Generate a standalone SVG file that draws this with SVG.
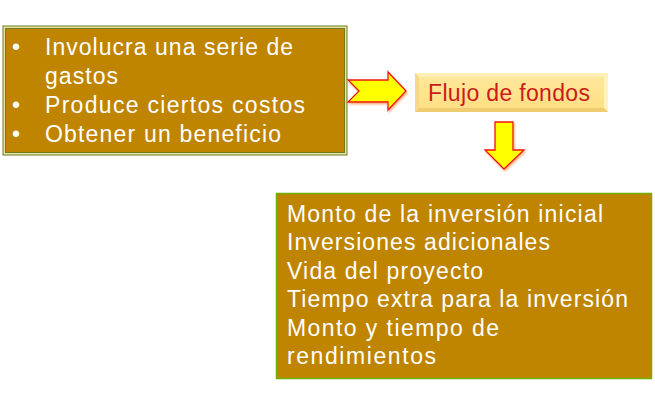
<svg xmlns="http://www.w3.org/2000/svg" width="655" height="416" viewBox="0 0 655 416">
<defs>
<style>
.t{font-family:"Liberation Sans",Arial,sans-serif;font-size:23px;fill:#ffffff}
.arr{fill:#ffff00;stroke:#ee1111;stroke-width:1.3}
</style>
<linearGradient id="fg" x1="0" y1="0" x2="0" y2="1">
<stop offset="0" stop-color="#ffe89a"/>
<stop offset="1" stop-color="#ffdf85"/>
</linearGradient>
<filter id="sh" x="-20%" y="-20%" width="150%" height="150%">
<feDropShadow dx="1" dy="1.5" stdDeviation="1" flood-color="#f08030" flood-opacity="0.7"/>
</filter>
</defs>
<rect width="655" height="416" fill="#ffffff"/>
<g id="box-caracteristicas">
<rect x="3" y="26" width="344" height="129" fill="#e6e2a8" stroke="#6f7d1c" stroke-width="1"/>
<rect x="5.5" y="28.5" width="339" height="124" fill="#bf8500" stroke="#6f7d1c" stroke-width="1"/>
<text class="t" x="12" y="55">•</text>
<text class="t" x="45" y="55" textLength="248" lengthAdjust="spacing">Involucra una serie de</text>
<text class="t" x="45" y="84" textLength="73" lengthAdjust="spacing">gastos</text>
<text class="t" x="12" y="113">•</text>
<text class="t" x="45" y="113" textLength="260" lengthAdjust="spacing">Produce ciertos costos</text>
<text class="t" x="12" y="142">•</text>
<text class="t" x="45" y="142" textLength="236" lengthAdjust="spacing">Obtener un beneficio</text>
</g>
<g id="box-flujo">
<rect x="415" y="73" width="193" height="39" fill="#fbe7a0"/>
<polygon points="415,73 608,73 604,77 419,77" fill="#fff0b8"/>
<polygon points="608,73 608,112 604,108 604,77" fill="#fff3c0"/>
<polygon points="415,112 608,112 604,108 419,108" fill="#f0cc70"/>
<polygon points="415,73 419,77 419,108 415,112" fill="#f5d888"/>
<rect x="419" y="77" width="185" height="31" fill="url(#fg)"/>
<text x="428" y="101" textLength="162" lengthAdjust="spacing" style="font-family:'Liberation Sans',Arial,sans-serif;font-size:23px;fill:#cc1a1a">Flujo de fondos</text>
</g>
<g id="box-elementos">
<rect x="276.5" y="193.5" width="375" height="185" fill="#bf8500" stroke="#72b000" stroke-width="1.5"/>
<text class="t" x="287" y="222" textLength="316" lengthAdjust="spacing">Monto de la inversión inicial</text>
<text class="t" x="287" y="250" textLength="263" lengthAdjust="spacing">Inversiones adicionales</text>
<text class="t" x="287" y="279" textLength="196" lengthAdjust="spacing">Vida del proyecto</text>
<text class="t" x="287" y="307" textLength="341" lengthAdjust="spacing">Tiempo extra para la inversión</text>
<text class="t" x="287" y="336" textLength="212" lengthAdjust="spacing">Monto y tiempo de</text>
<text class="t" x="287" y="364" textLength="149" lengthAdjust="spacing">rendimientos</text>
</g>
<g id="connectors">
<polygon class="arr" filter="url(#sh)" points="348,80 388,80 388,72 406,91 388,110 388,102 348,102 359,91"/>
<polygon class="arr" filter="url(#sh)" points="495,122 513,122 513,150 524,150 504,169 485,150 495,150"/>
</g>
</svg>
